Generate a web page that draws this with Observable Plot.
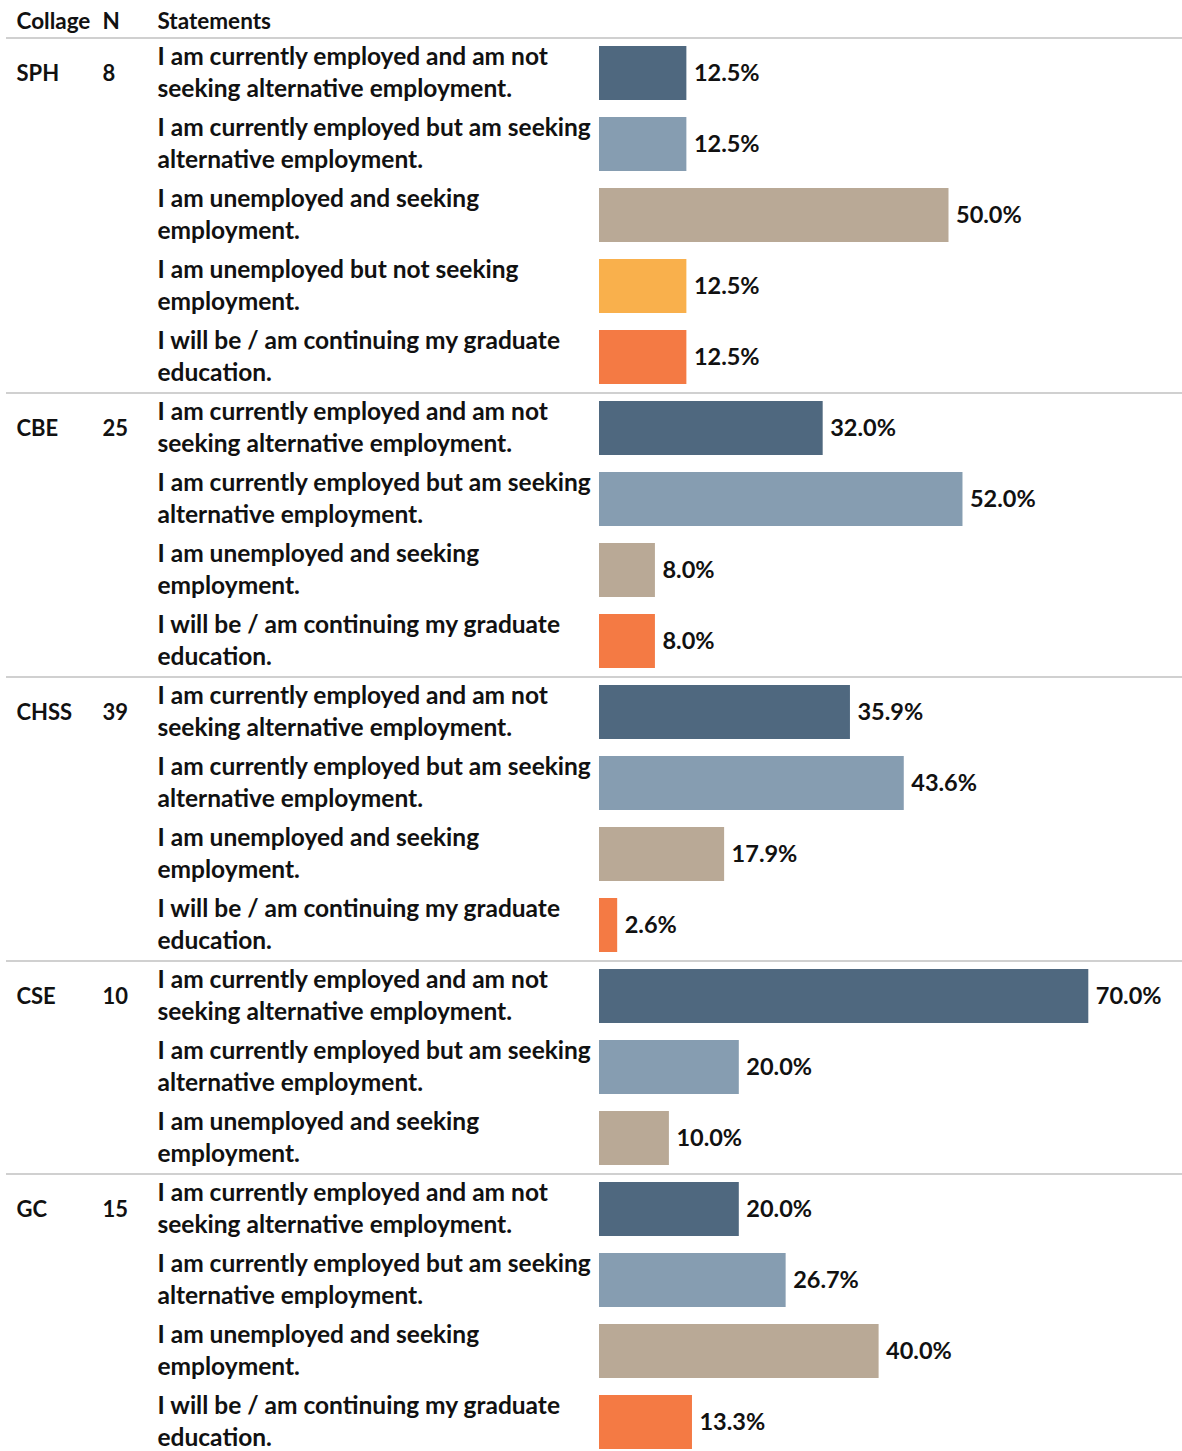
<!DOCTYPE html>
<html>
<head>
<meta charset="utf-8">
<script src="https://cdn.jsdelivr.net/npm/d3@7"></script>
<script src="https://cdn.jsdelivr.net/npm/@observablehq/plot@0.6"></script>
<style>
  html, body { margin: 0; padding: 0; background: #fff; }
  #chart { width: 1182px; height: 1451px; overflow: hidden; }
</style>
</head>
<body>
<div id="chart"></div>
<script>
// ---- data ----
const colleges = ["SPH", "CBE", "CHSS", "CSE", "GC"];
const counts = [8, 25, 39, 10, 15];
const statements = [
  "I am currently employed and am not\nseeking alternative employment.",
  "I am currently employed but am seeking\nalternative employment.",
  "I am unemployed and seeking\nemployment.",
  "I am unemployed but not seeking\nemployment.",
  "I will be / am continuing my graduate\neducation."
];
const statementColors = ["#4f687f", "#869db1", "#b9a996", "#f9b04c", "#f47a44"];
// statement index per college, and the matching percentages
const sphStatements = [0, 1, 2, 3, 4];
const sphValues = [12.5, 12.5, 50.0, 12.5, 12.5];
const cbeStatements = [0, 1, 2, 4];
const cbeValues = [32.0, 52.0, 8.0, 8.0];
const chssStatements = [0, 1, 2, 4];
const chssValues = [35.9, 43.6, 17.9, 2.6];
const cseStatements = [0, 1, 2];
const cseValues = [70.0, 20.0, 10.0];
const gcStatements = [0, 1, 2, 4];
const gcValues = [20.0, 26.7, 40.0, 13.3];
const headers = ["Collage", "N", "Statements"];

// ---- build table ----
const groups = [
  [sphStatements, sphValues],
  [cbeStatements, cbeValues],
  [chssStatements, chssValues],
  [cseStatements, cseValues],
  [gcStatements, gcValues]
];
const rows = [];
groups.forEach(([st, vals], g) => {
  st.forEach((s, i) => {
    rows.push({
      id: `${colleges[g]}-${i}`,
      college: colleges[g],
      n: counts[g],
      first: i === 0,
      statement: statements[s],
      value: vals[i]
    });
  });
});
const firstRows = rows.filter(d => d.first);
const columnOffsets = [16, 102, 157];

const font = "Lato, 'Open Sans', sans-serif";

const chart = Plot.plot({
  width: 1182,
  height: 1451,
  marginTop: 0, marginBottom: 0, marginLeft: 0, marginRight: 0,
  style: { fontFamily: font, fontWeight: 700, background: "#fff", color: "#111" },
  x: { domain: [0, 100], range: [599, 1298], axis: null },
  y: { type: "band", domain: rows.map(d => d.id), range: [37.5, 1457.5], paddingInner: 0.24, paddingOuter: 0.12, axis: null },
  color: { domain: statements, range: statementColors },
  marks: [
    // separators
    Plot.ruleY(firstRows, { y: "id", dy: -35.5, stroke: "#d0d0d0", strokeWidth: 2, insetLeft: 6 }),
    // header (one mark per column)
    ...headers.map((h, i) => Plot.text([h], { text: d => d, frameAnchor: "top-left", textAnchor: "start",
      lineAnchor: "middle", dx: columnOffsets[i], dy: 21, fontSize: 22.5, fill: "#111" })),
    // bars
    Plot.barX(rows, { y: "id", x: "value", fill: d => d.statement }),
    // value labels
    Plot.text(rows, { y: "id", x: "value", text: d => d.value.toFixed(1) + "%", textAnchor: "start", dx: 7, fontSize: 23.5, fill: "#111" }),
    // statements
    Plot.text(rows, { y: "id", text: "statement", frameAnchor: "left", textAnchor: "start", dx: 157, dy: -3, fontSize: 24.5, lineHeight: 1.306, fill: "#111" }),
    // college
    Plot.text(firstRows, { y: "id", text: "college", frameAnchor: "left", textAnchor: "start", dx: 16, fontSize: 22, fill: "#111" }),
    // N
    Plot.text(firstRows, { y: "id", text: d => String(d.n), frameAnchor: "left", textAnchor: "start", dx: 102, fontSize: 22, fill: "#111" })
  ]
});

document.getElementById("chart").appendChild(chart);
</script>
</body>
</html>
